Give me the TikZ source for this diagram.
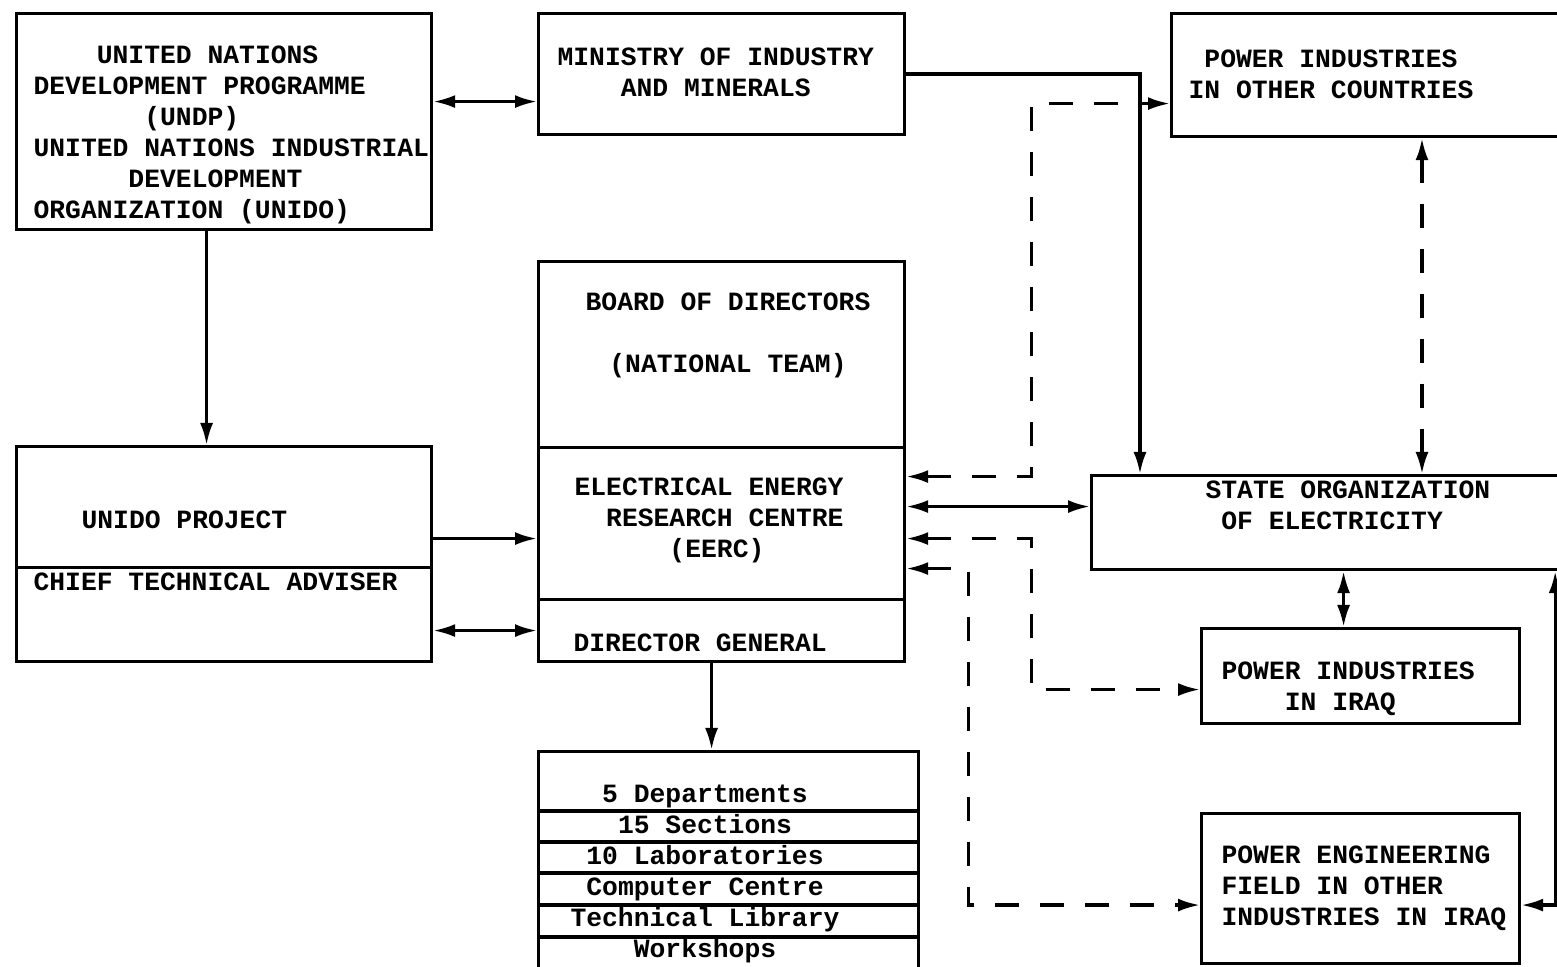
\documentclass[tikz,border=0pt]{standalone}
\usepackage{fontspec}
\newfontfamily\typer{Liberation Mono}
\usetikzlibrary{arrows.meta}

\begin{document}
\begin{tikzpicture}[x=0.1mm, y=-0.1mm, line width=0.9pt,
  font=\typer\bfseries\fontsize{7.5}{8.8}\selectfont,
  >={Latex[length=2.2mm, width=1.3mm]},
  box/.style={draw, anchor=north west, inner sep=0},
  txt/.style={inner sep=0, anchor=west, align=left},
  flow/.style={dash pattern=on 2.4mm off 2.1mm}]
  \clip (0,0) rectangle (1557,967);
  % boxes
  \node[box, minimum width=41.5mm, minimum height=21.6mm] (undp) at (15,12) {};
  \node[box, minimum width=41.5mm, minimum height=12.1mm] (unido) at (15,445) {};
  \node[box, minimum width=41.5mm, minimum height=9.4mm] (cta) at (15,566) {};
  \node[box, minimum width=36.6mm, minimum height=12.1mm] (mind) at (537,12) {};
  \node[box, minimum width=36.6mm, minimum height=18.6mm] (board) at (537,260) {};
  \node[box, minimum width=36.6mm, minimum height=15.2mm] (eerc) at (537,446) {};
  \node[box, minimum width=36.6mm, minimum height=6.2mm] (dg) at (537,598) {};
  \node[box, minimum width=38mm, minimum height=22mm] (units) at (537,750) {};
  \node[box, minimum width=40.5mm, minimum height=12.3mm] (poc) at (1170,12) {};
  \node[box, minimum width=48.5mm, minimum height=9.4mm] (state) at (1090,474) {};
  \node[box, minimum width=31.8mm, minimum height=9.5mm] (iraq) at (1200,627) {};
  \node[box, minimum width=31.8mm, minimum height=15mm] (peng) at (1200,812) {};
  \draw (537,811) -- (917,811) (537,842) -- (917,842) (537,873) -- (917,873)
        (537,905) -- (917,905) (537,937) -- (917,937);
  % texts
  \node[txt] (undp-t) at (32,135) {\hphantom{0000}UNITED NATIONS\\DEVELOPMENT PROGRAMME\\
    \hphantom{0000000}(UNDP)\\UNITED NATIONS INDUSTRIAL\\\hphantom{000000}DEVELOPMENT\\
    ORGANIZATION (UNIDO)};
  \node[txt] (mind-t) at (556,72) {MINISTRY OF INDUSTRY\\\hphantom{0000}AND MINERALS};
  \node[align=center, inner sep=0] (poc-t) at (1331,74) {POWER INDUSTRIES\\IN OTHER COUNTRIES};
  \node[align=center, inner sep=0] (board-t) at (728,335) {BOARD OF DIRECTORS\\[8.8pt](NATIONAL TEAM)};
  \node[txt] (eerc-t) at (573,520) {ELECTRICAL ENERGY\\\hphantom{00}RESEARCH CENTRE\\\hphantom{000000}(EERC)};
  \node[txt] (dg-t) at (572,643) {DIRECTOR GENERAL};
  \node[txt] (unido-t) at (80,520) {UNIDO PROJECT};
  \node[txt] (cta-t) at (32,582) {CHIEF TECHNICAL ADVISER};
  \node[align=center, inner sep=0] (units-t) at (705,874) {5 Departments\\15 Sections\\10 Laboratories\\
    Computer Centre\\Technical Library\\Workshops};
  \node[txt] (state-t) at (1204,505) {STATE ORGANIZATION\\\hphantom{0}OF ELECTRICITY};
  \node[txt] (iraq-t) at (1220,689) {POWER INDUSTRIES\\\hphantom{0000}IN IRAQ};
  \node[txt] (peng-t) at (1220,888) {POWER ENGINEERING\\FIELD IN OTHER\\INDUSTRIES IN IRAQ};
  % links
  \draw[<->] ([yshift=2mm]undp.east) -- ([yshift=2mm]undp.east -| mind.west);
  \draw[->] ([xshift=-1.75mm]undp.south) -- ([xshift=-1.75mm]undp.south |- unido.north);
  \draw[->] (mind.east) -| ([xshift=5mm]state.north west);
  \draw[<->, flow] ([yshift=4.7mm]eerc.east) -- ++(125,0) |- ([yshift=-2.85mm]poc.west);
  \draw[<->] ([yshift=1.7mm]eerc.east) -- ([yshift=1.7mm]eerc.east -| state.west);
  \draw[<->, flow] ([yshift=-1.5mm]eerc.east) -- ++(125,0) |- ([yshift=-1.35mm]iraq.west);
  \draw[<->, flow] ([yshift=-4.5mm]eerc.east) -- ++(62,0) |- ([yshift=-1.65mm]peng.west);
  \draw[<->] ([xshift=-1.7mm]iraq.north) -- ([xshift=-1.7mm]iraq.north |- state.south);
  \draw[<->, flow] ([xshift=25.2mm]poc.south west) -- ([xshift=25.2mm]poc.south west |- state.north);
  \draw[<->] ([yshift=-1.65mm]peng.east) -| ([xshift=-2.3mm]state.south east);
  \draw[->] ([yshift=-3.15mm]unido.east) -- ([yshift=-3.15mm]unido.east -| eerc.west);
  \draw[<->] (cta.east |- dg.west) -- (dg.west);
  \draw[->] ([xshift=-1mm]dg.south) -- ([xshift=-1mm]dg.south |- units.north);
\end{tikzpicture}
\end{document}
